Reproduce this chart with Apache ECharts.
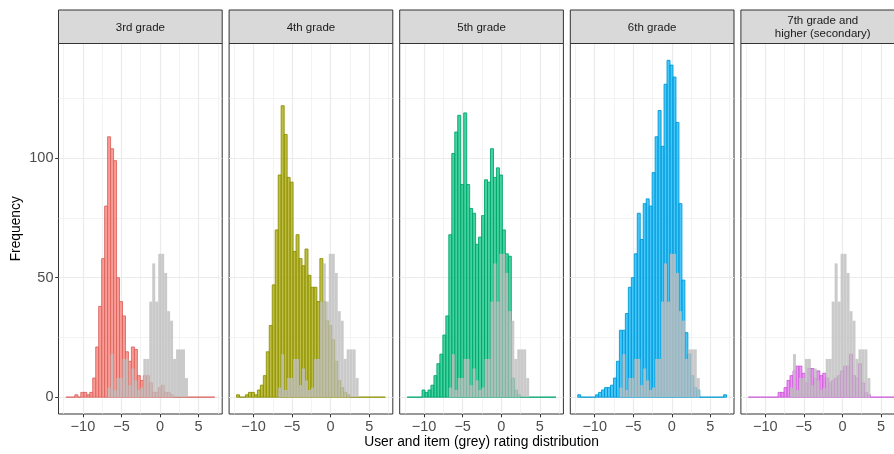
<!DOCTYPE html>
<html>
<head>
<meta charset="utf-8">
<script src="https://cdn.jsdelivr.net/npm/echarts@6/dist/echarts.min.js"></script>
<style>
  html, body { margin: 0; padding: 0; background: #fff; }
  #chart { width: 894px; height: 454px; }
</style>
</head>
<body>
<div id="chart"></div>
<script>
// histogram bins shared by all facets (50 bins)
const binStart = -12.2;
const binWidth = 0.386;

const facets = ["3rd grade", "4th grade", "5th grade", "6th grade", "7th grade and\nhigher (secondary)"];

// user rating counts per bin, one array per grade
const grade3 = [0,0,0,1,0,2,2,1,2,8, 21,38,58,80,109,104,99,50,40,34, 19,15,21,20,9,7,9,9,6,2, 2,4,5,2,2,1,0,0,0,0, 0,0,0,0,0,0,0,0,0,0];
const grade4 = [1,0,0,1,2,2,1,3,5,9, 19,30,47,70,93,122,110,92,90,61, 68,58,55,62,51,46,46,40,58,40, 32,30,24,15,7,4,2,1,0,0, 0,0,0,0,0,0,0,0,0,0];
const grade5 = [0,0,0,0,0,3,2,3,5,9, 14,18,26,34,68,102,111,118,89,119, 89,79,77,64,67,76,91,90,104,92, 96,93,70,60,59,8,3,1,0,0, 0,0,0,0,0,0,0,0,0,0];
const grade6 = [1,0,0,0,0,0,1,2,3,4, 4,5,8,15,28,28,35,46,50,60, 77,66,81,83,80,94,109,120,105,131, 141,139,134,115,81,49,27,18,9,4, 3,0,0,0,0,0,0,0,0,1];
const grade7 = [0,0,0,0,0,0,0,0,0,0, 2,2,4,7,9,11,13,13,10,6, 12,12,8,11,9,10,8,6,7,8, 9,11,13,13,18,9,8,14,6,2, 1,0,0,0,0,0,0,0,0,0];
// item rating counts per bin (grey, same in every facet)
const items = [0,0,0,0,0,0,0,0,0,0, 0,0,0,0,4,18,3,8,8,16, 16,5,12,7,3,4,16,16,40,56, 40,60,60,52,36,32,16,20,20,20, 8,0,0,0,0,0,0,0,0,0];

const xTicks = [-10, -5, 0, 5];
const xMinor = [-12.5, -7.5, -2.5, 2.5, 7.5];
const yTicks = [0, 50, 100];
const yMinor = [25, 75, 125];

const fills = ["#F8766D", "#A3A500", "#00BF7D", "#00B0F6", "#E76BF3"];

// layout
const PANEL_LEFT = 58.5, PANEL_W = 163.7, PANEL_GAP = 6.9;
const PANEL_TOP = 43.5, PANEL_H = 370.5, STRIP_TOP = 10;
const X_MIN = -13.165, X_MAX = 8.065;
const Y_MIN = -7.05, Y_MAX = 148.05;
const FONT = '"Liberation Sans", Arial, sans-serif';

function rgba(hex, a, dark) {
  const n = parseInt(hex.slice(1), 16);
  const k = 1 - (dark || 0);
  const r = Math.round((n >> 16) * k), g = Math.round(((n >> 8) & 255) * k), b = Math.round((n & 255) * k);
  return "rgba(" + r + "," + g + "," + b + "," + a + ")";
}

function barRenderer(fill, stroke) {
  return function (params, api) {
    const a = api.coord([api.value(0), api.value(2)]);
    const b = api.coord([api.value(1), 0]);
    return {
      type: "rect",
      shape: { x: a[0], y: a[1], width: b[0] - a[0], height: b[1] - a[1] },
      style: { fill: fill, stroke: stroke, lineWidth: stroke ? 0.9 : 0 }
    };
  };
}

function toBins(counts) {
  return counts.map((c, k) => [binStart + k * binWidth, binStart + (k + 1) * binWidth, c]);
}

const userCounts = [grade3, grade4, grade5, grade6, grade7];
const grids = [], xAxes = [], yAxes = [], series = [], graphics = [];
const minus = (v) => String(v).replace("-", "\u2212");

facets.forEach((name, i) => {
  const left = PANEL_LEFT + i * (PANEL_W + PANEL_GAP);
  grids.push({
    left: left, top: PANEL_TOP, width: PANEL_W, height: PANEL_H,
    show: true, borderColor: "#333333", borderWidth: 1, backgroundColor: "#fff",
    containLabel: false, outerBoundsMode: "none"
  });

  // major x axis with ticks + labels
  xAxes.push({
    gridIndex: i, type: "value", min: X_MIN, max: X_MAX,
    axisLine: { show: false, onZero: false },
    axisTick: { show: true, customValues: xTicks, length: 3.3, lineStyle: { color: "#333333", width: 1 } },
    axisLabel: { customValues: xTicks, margin: 5, fontSize: 14.5, color: "#4D4D4D", fontFamily: FONT, formatter: minus },
    splitLine: { show: true, lineStyle: { color: "#EBEBEB", width: 1.2 } }
  });
  // minor x grid
  xAxes.push({
    gridIndex: i, type: "value", min: X_MIN, max: X_MAX,
    axisLine: { show: false, onZero: false },
    axisTick: { show: false, customValues: xMinor },
    axisLabel: { show: false },
    splitLine: { show: true, lineStyle: { color: "#EBEBEB", width: 0.6 } }
  });

  const first = i === 0;
  yAxes.push({
    gridIndex: i, type: "value", min: Y_MIN, max: Y_MAX,
    axisLine: { show: false, onZero: false },
    axisTick: { show: first, customValues: yTicks, length: 3.3, lineStyle: { color: "#333333", width: 1 } },
    axisLabel: { show: first, customValues: yTicks, margin: 5, fontSize: 14.5, color: "#4D4D4D", fontFamily: FONT },
    splitLine: { show: true, lineStyle: { color: "#EBEBEB", width: 1.2 } },
    name: first ? "Frequency" : "",
    nameLocation: "middle", nameGap: 35, nameRotate: 90,
    nameTextStyle: { fontSize: 13.8, color: "#000", fontFamily: FONT }
  });
  yAxes.push({
    gridIndex: i, type: "value", min: Y_MIN, max: Y_MAX,
    axisLine: { show: false, onZero: false },
    axisTick: { show: false, customValues: yMinor },
    axisLabel: { show: false },
    splitLine: { show: true, lineStyle: { color: "#EBEBEB", width: 0.6 } }
  });

  series.push({
    type: "custom", xAxisIndex: 2 * i, yAxisIndex: 2 * i, z: 2, silent: true,
    renderItem: barRenderer(rgba(fills[i], 0.72), rgba(fills[i], 1, 0.12)),
    encode: { x: [0, 1], y: 2 },
    data: toBins(userCounts[i])
  });
  series.push({
    type: "custom", xAxisIndex: 2 * i, yAxisIndex: 2 * i, z: 3, silent: true,
    renderItem: barRenderer("rgba(190,190,190,0.82)", null),
    encode: { x: [0, 1], y: 2 },
    data: toBins(items)
  });

  // facet strip
  graphics.push({
    type: "rect", silent: true, z: 10,
    shape: { x: left, y: STRIP_TOP, width: PANEL_W, height: PANEL_TOP - STRIP_TOP },
    style: { fill: "#D9D9D9", stroke: "#333333", lineWidth: 1 }
  });
  graphics.push({
    type: "text", silent: true, z: 11,
    x: left + PANEL_W / 2, y: (STRIP_TOP + PANEL_TOP) / 2 + 1,
    style: {
      text: name, fill: "#1A1A1A", fontSize: 11.5, fontFamily: FONT,
      align: "center", verticalAlign: "middle", lineHeight: 13
    }
  });
});

graphics.push({
  type: "text", silent: true,
  x: (PANEL_LEFT + PANEL_LEFT + 5 * PANEL_W + 4 * PANEL_GAP) / 2, y: 442,
  style: {
    text: "User and item (grey) rating distribution", fill: "#000",
    fontSize: 13.8, fontFamily: FONT, align: "center", verticalAlign: "middle"
  }
});

const chart = echarts.init(document.getElementById("chart"));
chart.setOption({
  animation: false,
  backgroundColor: "#fff",
  textStyle: { fontFamily: FONT },
  grid: grids,
  xAxis: xAxes,
  yAxis: yAxes,
  series: series,
  graphic: graphics
});
</script>
</body>
</html>
